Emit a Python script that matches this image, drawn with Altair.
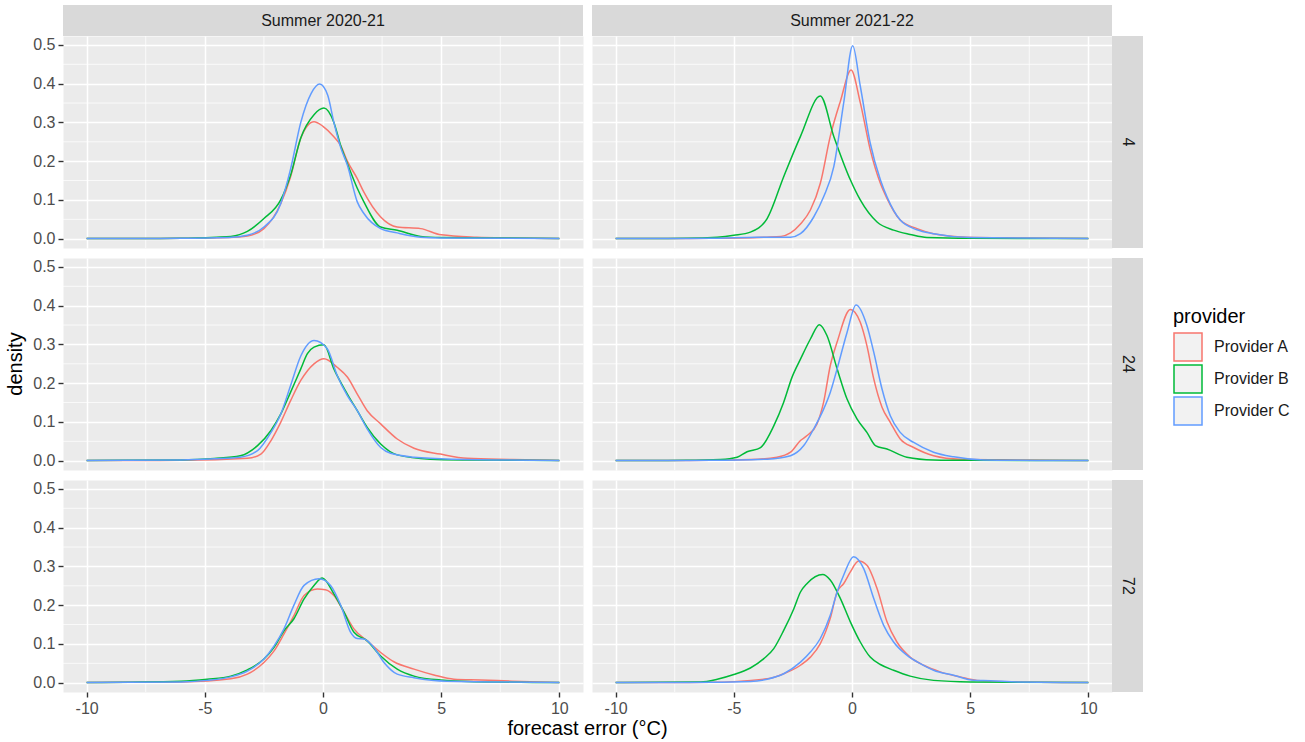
import altair as alt
import pandas as pd

SEASONS = ["Summer 2020-21", "Summer 2021-22"]
LEADS = ["4", "24", "72"]
PROVIDERS = ["Provider A", "Provider B", "Provider C"]
PALETTE = ["#F8766D", "#00BA38", "#619CFF"]

X_BREAKS = [-10, -5, 0, 5, 10]
X_MINOR = [-7.5, -2.5, 2.5, 7.5]
Y_BREAKS = [0.0, 0.1, 0.2, 0.3, 0.4, 0.5]
Y_MINOR = [0.05, 0.15, 0.25, 0.35, 0.45]

# ---- Summer 2020-21, lead 4 ----
s1_l4_a_x = [-10, -6, -4, -3.2, -2.5, -1.79, -1.37, -0.94, -0.38, 0, 0.46, 0.75, 1.03, 1.45, 1.73, 2.44, 3.14, 4.13, 5, 6.5, 8, 10]
s1_l4_a_y = [0.0005, 0.001, 0.003, 0.007, 0.026, 0.09, 0.16, 0.26, 0.302, 0.29, 0.263, 0.24, 0.2, 0.155, 0.12, 0.056, 0.03, 0.026, 0.01, 0.004, 0.002, 0.0005]
s1_l4_b_x = [-10, -6, -4.5, -3.9, -3.2, -2.5, -1.79, -1.37, -0.94, -0.38, 0.04, 0.46, 0.75, 1.03, 1.45, 1.73, 2.44, 3.14, 4.13, 5, 7, 10]
s1_l4_b_y = [0.0005, 0.001, 0.004, 0.006, 0.019, 0.052, 0.10, 0.164, 0.26, 0.32, 0.337, 0.30, 0.24, 0.194, 0.13, 0.095, 0.03, 0.022, 0.006, 0.003, 0.002, 0.0005]
s1_l4_c_x = [-10, -6, -4, -3.2, -2.5, -1.79, -1.37, -0.94, -0.5, -0.14, 0.2, 0.46, 0.75, 1.03, 1.45, 1.73, 2.44, 3.14, 4.13, 5, 10]
s1_l4_c_y = [0.0005, 0.001, 0.003, 0.009, 0.03, 0.09, 0.18, 0.30, 0.375, 0.399, 0.37, 0.30, 0.235, 0.19, 0.095, 0.065, 0.026, 0.015, 0.004, 0.002, 0.0005]

# ---- Summer 2021-22, lead 4 ----
s2_l4_a_x = [-10, -6, -3.6, -3.0, -2.6, -2.18, -1.76, -1.34, -0.92, -0.49, -0.04, 0.35, 0.77, 1.2, 1.48, 2.04, 2.75, 3.45, 4.86, 7, 10]
s2_l4_a_y = [0.0005, 0.001, 0.004, 0.006, 0.015, 0.038, 0.074, 0.143, 0.264, 0.355, 0.435, 0.351, 0.23, 0.143, 0.104, 0.048, 0.026, 0.013, 0.004, 0.002, 0.0005]
s2_l4_b_x = [-10, -7, -5.7, -5, -4.3, -3.59, -2.89, -2.18, -1.34, -0.77, -0.07, 0.35, 1.06, 1.76, 2.46, 3.17, 5, 10]
s2_l4_b_y = [0.0005, 0.001, 0.004, 0.009, 0.017, 0.052, 0.16, 0.264, 0.368, 0.264, 0.152, 0.1, 0.043, 0.022, 0.011, 0.003, 0.001, 0.0005]
s2_l4_c_x = [-10, -6, -4, -2.6, -2.18, -1.62, -1.2, -0.77, -0.35, 0.03, 0.35, 0.77, 1.2, 1.48, 2.04, 2.75, 3.45, 5, 7, 10]
s2_l4_c_y = [0.0005, 0.001, 0.004, 0.004, 0.013, 0.056, 0.108, 0.186, 0.351, 0.498, 0.394, 0.247, 0.152, 0.108, 0.048, 0.023, 0.013, 0.003, 0.002, 0.0005]

# ---- Summer 2020-21, lead 24 ----
s1_l24_a_x = [-10, -6, -3.2, -2.63, -2.2, -1.79, -1.37, -0.94, -0.38, 0.04, 0.6, 1.03, 1.45, 1.87, 2.44, 3.14, 3.85, 4.97, 6.1, 8, 10]
s1_l24_a_y = [0.0005, 0.001, 0.006, 0.017, 0.052, 0.099, 0.155, 0.207, 0.25, 0.263, 0.241, 0.216, 0.172, 0.129, 0.095, 0.056, 0.032, 0.017, 0.006, 0.003, 0.0005]
s1_l24_b_x = [-10, -6, -4.6, -3.5, -2.77, -2.2, -1.79, -1.37, -0.94, -0.66, -0.38, 0.04, 0.46, 1.03, 1.45, 1.87, 2.44, 3.14, 4.55, 6, 10]
s1_l24_b_y = [0.0005, 0.002, 0.006, 0.013, 0.039, 0.078, 0.12, 0.177, 0.237, 0.276, 0.293, 0.299, 0.237, 0.172, 0.129, 0.086, 0.043, 0.015, 0.004, 0.002, 0.0005]
s1_l24_c_x = [-10, -6, -4.6, -3.5, -2.77, -2.2, -1.79, -1.37, -0.94, -0.38, 0.18, 0.6, 1.03, 1.45, 1.87, 2.44, 2.86, 3.85, 5.5, 10]
s1_l24_c_y = [0.0005, 0.002, 0.005, 0.009, 0.026, 0.073, 0.12, 0.194, 0.27, 0.31, 0.289, 0.22, 0.168, 0.129, 0.082, 0.034, 0.019, 0.009, 0.004, 0.0005]

# ---- Summer 2021-22, lead 24 ----
s2_l24_a_x = [-10, -6, -4.3, -3.17, -2.6, -2.18, -1.9, -1.48, -1.2, -0.92, -0.63, -0.07, 0.35, 0.63, 0.92, 1.27, 1.62, 2.04, 2.61, 3.45, 4.58, 7, 10]
s2_l24_a_y = [0.0005, 0.001, 0.003, 0.009, 0.022, 0.052, 0.065, 0.095, 0.151, 0.245, 0.306, 0.39, 0.357, 0.297, 0.211, 0.138, 0.099, 0.056, 0.034, 0.013, 0.004, 0.002, 0.0005]
s2_l24_b_x = [-10, -7, -5.56, -4.86, -4.44, -3.87, -3.31, -2.89, -2.54, -2.18, -1.76, -1.38, -1.06, -0.63, -0.21, 0.21, 0.63, 0.99, 1.48, 2.32, 3.45, 5, 10]
s2_l24_b_y = [0.0005, 0.001, 0.003, 0.009, 0.023, 0.034, 0.09, 0.151, 0.215, 0.262, 0.314, 0.351, 0.323, 0.237, 0.159, 0.108, 0.073, 0.039, 0.03, 0.009, 0.002, 0.001, 0.0005]
s2_l24_c_x = [-10, -6, -3.59, -2.6, -2.04, -1.62, -1.2, -0.92, -0.63, -0.21, 0.17, 0.63, 0.92, 1.27, 1.62, 2.04, 2.61, 3.45, 4.3, 5.56, 7, 10]
s2_l24_c_y = [0.0005, 0.001, 0.004, 0.013, 0.039, 0.082, 0.133, 0.176, 0.237, 0.331, 0.402, 0.349, 0.28, 0.185, 0.116, 0.073, 0.047, 0.022, 0.01, 0.002, 0.001, 0.0005]

# ---- Summer 2020-21, lead 72 ----
s1_l72_a_x = [-10, -6, -3.9, -3.2, -2.5, -2.07, -1.65, -1.23, -0.8, -0.24, 0.1, 0.46, 0.89, 1.31, 1.87, 2.44, 3.0, 3.85, 4.69, 5.54, 6.66, 8, 10]
s1_l72_a_y = [0.0005, 0.002, 0.01, 0.022, 0.052, 0.082, 0.126, 0.173, 0.225, 0.242, 0.24, 0.225, 0.182, 0.139, 0.108, 0.078, 0.054, 0.035, 0.02, 0.009, 0.007, 0.004, 0.0005]
s1_l72_b_x = [-10, -6, -4.9, -3.9, -3.2, -2.5, -2.07, -1.65, -1.23, -0.8, -0.38, -0.03, 0.46, 0.89, 1.31, 1.87, 2.44, 3.14, 3.85, 4.97, 7, 10]
s1_l72_b_y = [0.0005, 0.004, 0.009, 0.017, 0.033, 0.061, 0.091, 0.134, 0.165, 0.216, 0.251, 0.27, 0.229, 0.182, 0.13, 0.108, 0.069, 0.035, 0.017, 0.007, 0.002, 0.0005]
s1_l72_c_x = [-10, -6, -4.9, -3.9, -3.2, -2.5, -2.07, -1.65, -1.23, -0.8, -0.17, 0.32, 0.75, 1.17, 1.45, 1.73, 2.15, 2.58, 3.14, 3.85, 5.25, 10]
s1_l72_c_y = [0.0005, 0.002, 0.006, 0.015, 0.03, 0.061, 0.095, 0.139, 0.2, 0.251, 0.268, 0.251, 0.2, 0.13, 0.114, 0.113, 0.091, 0.052, 0.022, 0.013, 0.004, 0.0005]

# ---- Summer 2021-22, lead 72 ----
s2_l72_a_x = [-10, -6, -3.59, -2.89, -2.18, -1.76, -1.34, -0.92, -0.63, -0.35, -0.07, 0.28, 0.63, 1.06, 1.48, 1.9, 2.46, 3.03, 3.73, 4.58, 5.28, 7, 10]
s2_l72_a_y = [0.0005, 0.001, 0.01, 0.023, 0.045, 0.066, 0.101, 0.166, 0.234, 0.256, 0.286, 0.314, 0.303, 0.243, 0.157, 0.105, 0.066, 0.045, 0.028, 0.015, 0.006, 0.002, 0.0005]
s2_l72_b_x = [-10, -6.4, -5.7, -5, -4.3, -3.73, -3.31, -2.89, -2.46, -2.18, -1.9, -1.24, -0.92, -0.49, -0.07, 0.35, 0.77, 1.2, 1.76, 2.46, 3.45, 5, 10]
s2_l72_b_y = [0.0005, 0.002, 0.009, 0.021, 0.038, 0.062, 0.088, 0.135, 0.191, 0.234, 0.256, 0.279, 0.265, 0.217, 0.157, 0.105, 0.066, 0.047, 0.032, 0.017, 0.006, 0.002, 0.0005]
s2_l72_c_x = [-10, -6, -4.3, -3.59, -2.89, -2.18, -1.76, -1.34, -0.92, -0.63, -0.35, 0.07, 0.49, 0.92, 1.34, 1.76, 2.32, 2.89, 3.45, 4.3, 5.14, 5.85, 7, 10]
s2_l72_c_y = [0.0005, 0.001, 0.003, 0.009, 0.023, 0.053, 0.079, 0.114, 0.174, 0.234, 0.278, 0.325, 0.295, 0.217, 0.148, 0.105, 0.071, 0.049, 0.032, 0.019, 0.006, 0.005, 0.002, 0.0005]

curves = [
    ("Summer 2020-21", "4", "Provider A", s1_l4_a_x, s1_l4_a_y),
    ("Summer 2020-21", "4", "Provider B", s1_l4_b_x, s1_l4_b_y),
    ("Summer 2020-21", "4", "Provider C", s1_l4_c_x, s1_l4_c_y),
    ("Summer 2021-22", "4", "Provider A", s2_l4_a_x, s2_l4_a_y),
    ("Summer 2021-22", "4", "Provider B", s2_l4_b_x, s2_l4_b_y),
    ("Summer 2021-22", "4", "Provider C", s2_l4_c_x, s2_l4_c_y),
    ("Summer 2020-21", "24", "Provider A", s1_l24_a_x, s1_l24_a_y),
    ("Summer 2020-21", "24", "Provider B", s1_l24_b_x, s1_l24_b_y),
    ("Summer 2020-21", "24", "Provider C", s1_l24_c_x, s1_l24_c_y),
    ("Summer 2021-22", "24", "Provider A", s2_l24_a_x, s2_l24_a_y),
    ("Summer 2021-22", "24", "Provider B", s2_l24_b_x, s2_l24_b_y),
    ("Summer 2021-22", "24", "Provider C", s2_l24_c_x, s2_l24_c_y),
    ("Summer 2020-21", "72", "Provider A", s1_l72_a_x, s1_l72_a_y),
    ("Summer 2020-21", "72", "Provider B", s1_l72_b_x, s1_l72_b_y),
    ("Summer 2020-21", "72", "Provider C", s1_l72_c_x, s1_l72_c_y),
    ("Summer 2021-22", "72", "Provider A", s2_l72_a_x, s2_l72_a_y),
    ("Summer 2021-22", "72", "Provider B", s2_l72_b_x, s2_l72_b_y),
    ("Summer 2021-22", "72", "Provider C", s2_l72_c_x, s2_l72_c_y),
]

rows = []
for season, lead, prov, xs, ys in curves:
    for xv, yv in zip(xs, ys):
        rows.append({"season": season, "lead": lead, "provider": prov, "x": xv, "y": yv})
df = pd.DataFrame(rows)

W, H = 520, 212
STRIP = 31
FONT = "Liberation Sans"
x_scale = alt.Scale(domain=[-11, 11], nice=False, zero=False)
y_scale = alt.Scale(domain=[-0.024, 0.523], nice=False, zero=False)


def make_panel(ci, ri):
    season, lead = SEASONS[ci], LEADS[ri]
    left, bottom = ci == 0, ri == len(LEADS) - 1
    x_axis = alt.Axis(values=X_BREAKS, title=None, labels=bottom, ticks=bottom, grid=True,
                      labelExpr="replace(datum.label, '\u2212', '-')")
    y_axis = alt.Axis(values=Y_BREAKS, title=None, labels=left, ticks=left, grid=True, format=".1f")
    xenc = alt.X("x:Q", scale=x_scale, axis=x_axis)
    yenc = alt.Y("y:Q", scale=y_scale, axis=y_axis)

    # thinner white minor grid between the major breaks
    vminor = alt.Chart(pd.DataFrame({"x": X_MINOR})).mark_rule(color="white", strokeWidth=0.75).encode(x=xenc)
    hminor = alt.Chart(pd.DataFrame({"y": Y_MINOR})).mark_rule(color="white", strokeWidth=0.75).encode(y=yenc)

    sub = df[(df["season"] == season) & (df["lead"] == lead)]
    lines = alt.Chart(sub).mark_line(strokeWidth=1.5, interpolate="monotone").encode(
        x=xenc,
        y=yenc,
        color=alt.Color(
            "provider:N",
            scale=alt.Scale(domain=PROVIDERS, range=PALETTE),
            legend=alt.Legend(title="provider", orient="none", legendX=1110, legendY=271),
        ),
    )
    layers = [vminor, hminor, lines]

    # grey strip with the season name above the top row
    if ri == 0:
        top_df = pd.DataFrame({"label": [season]})
        layers.append(alt.Chart(top_df).mark_rect(color="#D9D9D9").encode(
            x=alt.value(0), x2=alt.value(W), y=alt.value(-STRIP), y2=alt.value(0)))
        layers.append(alt.Chart(top_df).mark_text(fontSize=16, color="#1A1A1A", font=FONT).encode(
            text="label:N", x=alt.value(W / 2), y=alt.value(-STRIP / 2)))
    # grey strip with the lead time to the right of the last column
    if ci == len(SEASONS) - 1:
        side_df = pd.DataFrame({"label": [lead]})
        layers.append(alt.Chart(side_df).mark_rect(color="#D9D9D9").encode(
            x=alt.value(W), x2=alt.value(W + STRIP), y=alt.value(0), y2=alt.value(H)))
        layers.append(alt.Chart(side_df).mark_text(fontSize=16, color="#1A1A1A", font=FONT, angle=90).encode(
            text="label:N", x=alt.value(W + STRIP / 2), y=alt.value(H / 2)))
    if left and ri == 1:
        layers.append(alt.Chart(pd.DataFrame({"label": ["density"]})).mark_text(
            fontSize=20, color="black", font=FONT, angle=270).encode(
            text="label:N", x=alt.value(-47), y=alt.value(H / 2)))
    if left and bottom:
        layers.append(alt.Chart(pd.DataFrame({"label": ["forecast error (°C)"]})).mark_text(
            fontSize=20, color="black", font=FONT).encode(
            text="label:N", x=alt.value(W + 4.5), y=alt.value(H + 37)))

    return alt.layer(*layers).properties(width=W, height=H)


panels = [make_panel(ci, ri) for ri in range(len(LEADS)) for ci in range(len(SEASONS))]

chart = alt.concat(
    *panels, columns=2, spacing={"row": 10, "column": 9}, bounds="flush"
).properties(
    padding={"left": 5, "top": 4, "right": 5, "bottom": 5}
).configure(
    font=FONT
).configure_view(
    fill="#EBEBEB", stroke="transparent"
).configure_axis(
    domain=False, gridColor="white", gridWidth=1.5, tickColor="#333333", tickWidth=1.4,
    tickSize=5, labelColor="#4D4D4D", labelFontSize=16, labelFont=FONT, labelPadding=3
).configure_legend(
    titleFontSize=20, titleFont=FONT, titleColor="black", titleFontWeight="normal", titlePadding=5,
    labelFontSize=16, labelFont=FONT, labelColor="#1A1A1A", labelOffset=11,
    symbolType="square", symbolSize=784, symbolStrokeWidth=1.5, symbolFillColor="#F2F2F2",
    rowPadding=-2.5
)

chart.save("out.html", embed_options={"renderer": "svg", "actions": False})
